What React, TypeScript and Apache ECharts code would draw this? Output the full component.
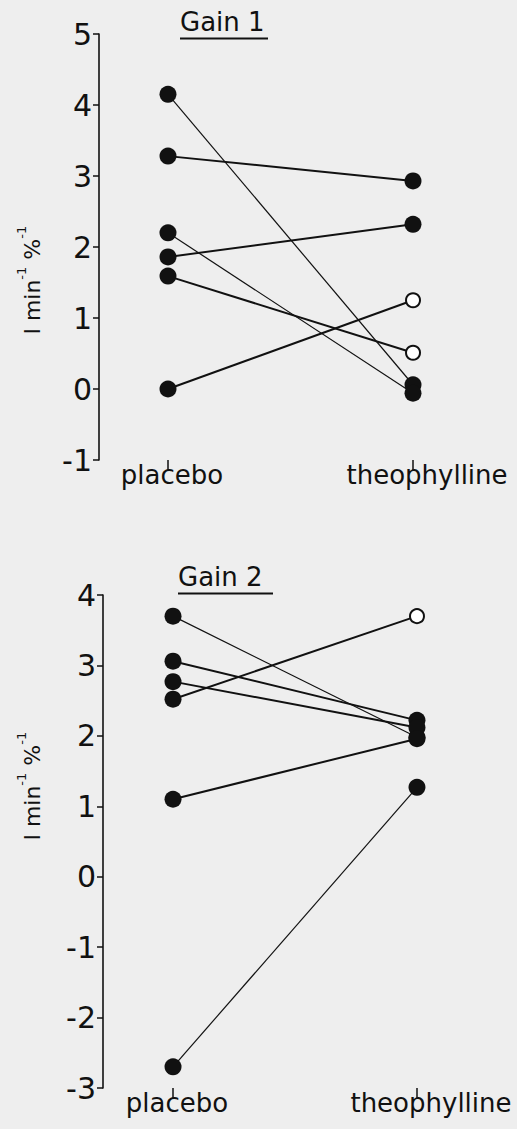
import React, { useEffect, useRef } from "react";
import * as echarts from "echarts";

const categories = ["placebo", "theophylline"];

// Gain 1 panel
const gain1Placebo = [4.15, 3.28, 2.2, 1.86, 1.59, 0];
const gain1Theo = [0.06, 2.93, -0.06, 2.32, 0.51, 1.25];
const gain1TheoOpen = [false, false, false, false, true, true];
const gain1Thin = [true, false, true, false, false, false];
const gain1Ticks = { min: -1, max: 5 };

// Gain 2 panel
const gain2Placebo = [3.7, 3.06, 2.77, 2.52, 1.1, -2.7];
const gain2Theo = [1.98, 2.22, 2.12, 3.7, 1.96, 1.27];
const gain2TheoOpen = [false, false, false, true, false, false];
const gain2Thin = [true, false, false, false, false, true];
const gain2Ticks = { min: -3, max: 4 };

const panelTitles = ["Gain 1", "Gain 2"];
const yUnit = ["l min", "-1", " %", "-1"];

const INK = "#111111";
const BG = "#eeeeee";

function App() {
  const ref = useRef<HTMLDivElement>(null);

  useEffect(() => {
    if (!ref.current) return;
    const chart = echarts.init(ref.current, null, { renderer: "svg" });

    const panels = [
      { p: gain1Placebo, t: gain1Theo, open: gain1TheoOpen, thin: gain1Thin, ticks: gain1Ticks },
      { p: gain2Placebo, t: gain2Theo, open: gain2TheoOpen, thin: gain2Thin, ticks: gain2Ticks },
    ];
    const xRange = [
      { min: -0.2816, max: 1.2816 },
      { min: -0.287, max: 1.287 },
    ];

    const series: any[] = [];
    panels.forEach((pn, gi) => {
      pn.p.forEach((pv, i) => {
        series.push({
          type: "line",
          xAxisIndex: gi,
          yAxisIndex: gi,
          symbol: "none",
          z: 2,
          lineStyle: { color: INK, width: pn.thin[i] ? 1.2 : 2 },
          data: [
            [0, pv],
            [1, pn.t[i]],
          ],
        });
      });
      series.push({
        type: "scatter",
        xAxisIndex: gi,
        yAxisIndex: gi,
        z: 3,
        symbol: "circle",
        symbolSize: 17,
        itemStyle: { color: INK, opacity: 1 },
        data: pn.p.map((v) => [0, v]),
      });
      series.push({
        type: "scatter",
        xAxisIndex: gi,
        yAxisIndex: gi,
        z: 3,
        symbol: "circle",
        symbolSize: 17,
        itemStyle: { color: INK, opacity: 1 },
        data: pn.t.filter((_, i) => !pn.open[i]).map((v) => [1, v]),
      });
      series.push({
        type: "scatter",
        xAxisIndex: gi,
        yAxisIndex: gi,
        z: 4,
        symbol: "circle",
        symbolSize: 14,
        itemStyle: { color: "#ffffff", borderColor: INK, borderWidth: 2, opacity: 1 },
        data: pn.t.filter((_, i) => pn.open[i]).map((v) => [1, v]),
      });
    });

    const titleY = [35, 590];
    const titleX = [180, 178];
    const underline = [
      { x1: 180, x2: 268, y: 38.5 },
      { x1: 178, x2: 273, y: 593.5 },
    ];
    const nameCenters = [
      { x: 29, y: 280 },
      { x: 29, y: 786 },
    ];

    const graphic: any[] = [];
    panelTitles.forEach((t, i) => {
      graphic.push({
        type: "text",
        x: titleX[i],
        y: titleY[i],
        style: {
          text: t,
          fill: INK,
          font: "26px 'DejaVu Sans'",
          textAlign: "left",
          textVerticalAlign: "bottom",
        },
      });
      graphic.push({
        type: "line",
        shape: { x1: underline[i].x1, y1: underline[i].y, x2: underline[i].x2, y2: underline[i].y },
        style: { stroke: INK, lineWidth: 2 },
      });
      graphic.push({
        type: "text",
        x: nameCenters[i].x,
        y: nameCenters[i].y,
        rotation: Math.PI / 2,
        style: {
          text: `{a|${yUnit[0]}}{s|${yUnit[1]}}{a|${yUnit[2]}}{s|${yUnit[3]}}`,
          align: "center",
          verticalAlign: "middle",
          rich: {
            a: { fontSize: 22, fontFamily: "DejaVu Sans", fill: INK, color: INK, lineHeight: 28, verticalAlign: "bottom" },
            s: { fontSize: 13, fontFamily: "DejaVu Sans", fill: INK, color: INK, lineHeight: 28, verticalAlign: "top" },
          },
        },
      });
    });

    const labelRich = {
      p: { fontSize: 26, fontFamily: "DejaVu Sans", color: INK, padding: [0, 0, 0, 8] },
      t: { fontSize: 26, fontFamily: "DejaVu Sans", color: INK, padding: [0, 0, 0, 28] },
    };

    const option: any = {
      animation: false,
      backgroundColor: BG,
      grid: [
        { left: 99, top: 34, width: 383, height: 426 },
        { left: 103, top: 595, width: 384, height: 493 },
      ],
      xAxis: [0, 1].map((gi) => ({
        gridIndex: gi,
        type: "value",
        min: xRange[gi].min,
        max: xRange[gi].max,
        axisLine: { show: false, onZero: false },
        splitLine: { show: false },
        axisTick: {
          show: true,
          customValues: [0, 1],
          length: 10,
          lineStyle: { color: INK, width: 1.5 },
        },
        axisLabel: {
          customValues: [0, 1],
          formatter: (v: number) => {
            const i = Math.round(v);
            const c = categories[i];
            if (!c) return "";
            return i === 0 ? `{p|${c}}` : `{t|${c}}`;
          },
          margin: 2,
          fontSize: 26,
          fontFamily: "DejaVu Sans",
          color: INK,
          rich: labelRich,
        },
      })),
      yAxis: panels.map((pn, gi) => ({
        gridIndex: gi,
        type: "value",
        min: pn.ticks.min,
        max: pn.ticks.max,
        interval: 1,
        axisLine: { show: true, onZero: false, lineStyle: { color: INK, width: 1.6 } },
        axisTick: { show: true, length: 6, lineStyle: { color: INK, width: 1.5 } },
        splitLine: { show: false },
        axisLabel: {
          margin: 7,
          fontSize: 30,
          fontFamily: "DejaVu Sans",
          color: INK,
        },
      })),
      graphic,
      series,
    };

    chart.setOption(option);
    return () => chart.dispose();
  }, []);

  return (
    <div
      ref={ref}
      style={{ position: "absolute", left: 0, top: 0, width: 517, height: 1129 }}
    />
  );
}

export default App;
